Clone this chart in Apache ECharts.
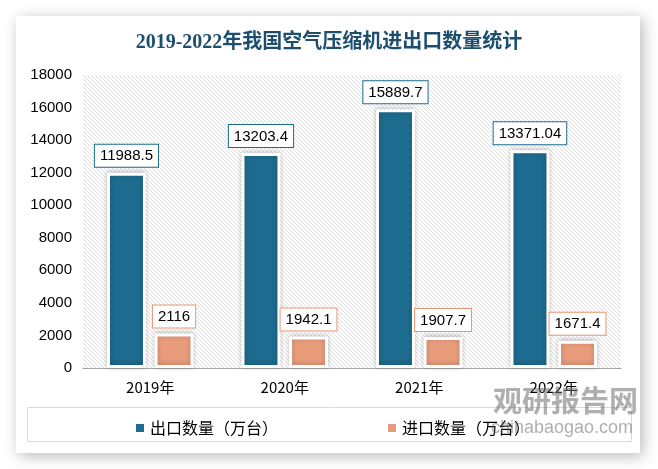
<!DOCTYPE html>
<html>
<head>
<meta charset="utf-8">
<script src="https://cdn.jsdelivr.net/npm/echarts@6/dist/echarts.min.js"></script>
<style>
html,body{margin:0;padding:0;background:#fff;}
#c{width:658px;height:469px;}
</style>
</head>
<body>
<div id="c"></div>
<script>
const categories = ['2019年', '2020年', '2021年', '2022年'];
const exportValues = [11988.5, 13203.4, 15889.7, 13371.04];
const importValues = [2116, 1942.1, 1907.7, 1671.4];
const seriesNames = ['出口数量（万台）', '进口数量（万台）'];
const yTicks = { min: 0, max: 18000, interval: 2000 };

// hatch pattern
const pc = document.createElement('canvas');
pc.width = 4; pc.height = 4;
const pctx = pc.getContext('2d');
pctx.fillStyle = '#ffffff';
pctx.fillRect(0, 0, 4, 4);
pctx.strokeStyle = '#dedede';
pctx.lineWidth = 1;
pctx.beginPath();
pctx.moveTo(0, 0); pctx.lineTo(4, 4);
pctx.moveTo(-1, 3); pctx.lineTo(1, 5);
pctx.moveTo(3, -1); pctx.lineTo(5, 1);
pctx.stroke();

const chart = echarts.init(document.getElementById('c'), null, { renderer: 'canvas' });
const labelFont = '"Liberation Sans", "Noto Sans", sans-serif';
const cjkFont = '"Noto Sans CJK SC", "Liberation Sans", sans-serif';

chart.setOption({
  backgroundColor: '#ffffff',
  animation: false,
  title: {
    text: '2019-2022年我国空气压缩机进出口数量统计',
    left: 'center',
    top: 28,
    textStyle: {
      fontFamily: '"Liberation Serif", "Noto Sans CJK SC", serif',
      fontSize: 20,
      fontWeight: 'bold',
      color: '#1e4e6e'
    }
  },
  graphic: [
    {
      type: 'rect', z: -10, silent: true,
      shape: { x: 16, y: 16, width: 624, height: 437 },
      style: { fill: '#ffffff', shadowBlur: 14, shadowColor: 'rgba(0,0,0,0.28)', shadowOffsetX: 3, shadowOffsetY: 3 }
    },
    {
      type: 'rect', z: 5, silent: true,
      shape: { x: 27.5, y: 407.5, width: 604, height: 34 },
      style: { fill: 'none', stroke: '#d9d9d9', lineWidth: 1 }
    },
    {
      type: 'text', z: 20, silent: true,
      left: 493, top: 386,
      style: { text: '观研报告网', font: 'bold 29px "Noto Sans CJK SC"', fill: 'rgba(110,110,110,0.55)' }
    },
    {
      type: 'text', z: 20, silent: true,
      left: 491, top: 419,
      style: { text: 'chinabaogao.com', font: '18px "Liberation Sans"', fill: 'rgba(110,110,110,0.55)' }
    }
  ],
  legend: {
    data: seriesNames,
    left: 129,
    top: 415,
    itemWidth: 10,
    itemHeight: 10,
    itemGap: 108,
    icon: 'rect',
    textStyle: { fontFamily: cjkFont, fontSize: 16, color: '#000' }
  },
  grid: {
    left: 83, right: 37, top: 75, bottom: 101,
    show: true,
    borderWidth: 0,
    backgroundColor: { image: pc, repeat: 'repeat' }
  },
  xAxis: {
    type: 'category',
    data: categories,
    axisLine: { lineStyle: { color: '#a6a6a6', width: 1 } },
    axisTick: { show: false },
    axisLabel: { fontFamily: cjkFont, fontSize: 15, color: '#000', margin: 12 }
  },
  yAxis: {
    type: 'value',
    min: yTicks.min, max: yTicks.max, interval: yTicks.interval,
    axisLine: { show: false },
    axisTick: { show: false },
    splitLine: { show: false },
    axisLabel: { fontFamily: labelFont, fontSize: 15, color: '#000', margin: 11, formatter: v => String(v) }
  },
  series: [
    {
      name: seriesNames[0],
      type: 'bar',
      data: exportValues,
      barWidth: 39,
      barGap: '22%',
      itemStyle: {
        color: '#1d6b8e',
        borderColor: '#ffffff', borderWidth: 3,
        shadowBlur: 5, shadowColor: 'rgba(0,0,0,0.22)', shadowOffsetX: 0, shadowOffsetY: -1
      },
      label: {
        show: true, position: 'top', distance: 6,
        fontFamily: labelFont, fontSize: 15, color: '#000',
        backgroundColor: '#fff', borderColor: '#1d6b8e', borderWidth: 1,
        padding: [4, 5, 3, 5],
        formatter: p => String(p.value)
      }
    },
    {
      name: seriesNames[1],
      type: 'bar',
      data: importValues,
      barWidth: 39,
      itemStyle: {
        color: '#e89c7c',
        borderColor: '#ffffff', borderWidth: 3,
        shadowBlur: 5, shadowColor: 'rgba(0,0,0,0.22)', shadowOffsetX: 0, shadowOffsetY: -1
      },
      label: {
        show: true, position: 'top', distance: 6,
        fontFamily: labelFont, fontSize: 15, color: '#000',
        backgroundColor: '#fff', borderColor: '#e8956f', borderWidth: 1,
        padding: [4, 5, 3, 5],
        formatter: p => String(p.value)
      }
    }
  ]
});
</script>
</body>
</html>
